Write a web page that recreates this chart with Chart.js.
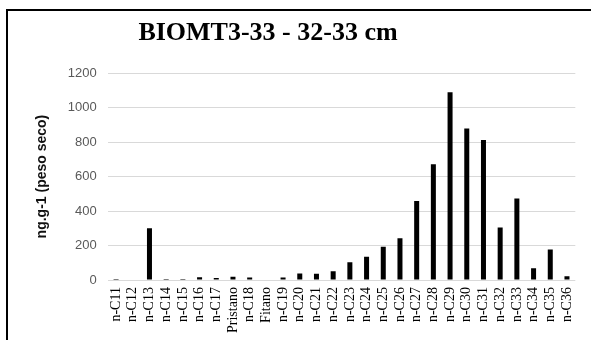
<!DOCTYPE html>
<html>
<head>
<meta charset="utf-8">
<script src="https://cdn.jsdelivr.net/npm/chart.js@4"></script>
<style>
html,body{margin:0;padding:0;background:#fff;overflow:hidden;}
#wrap{position:relative;width:591px;height:340px;}
#frame{position:absolute;left:6px;top:9px;width:700px;height:400px;border:2px solid #000;box-sizing:border-box;pointer-events:none;}
#title{position:absolute;left:0;top:17px;width:536px;text-align:center;font:bold 26px "Liberation Serif","Times New Roman",serif;line-height:30px;color:#000;}
canvas{position:absolute;left:0;top:0;}
</style>
</head>
<body>
<div id="wrap">
  <canvas id="chart" width="591" height="340"></canvas>
  <div id="frame"></div>
  <div id="title">BIOMT3-33 - 32-33 cm</div>
</div>
<script>
/* DATA */
const categories=["n-C11","n-C12","n-C13","n-C14","n-C15","n-C16","n-C17","Pristano","n-C18","Fitano",
  "n-C19","n-C20","n-C21","n-C22","n-C23","n-C24","n-C25","n-C26","n-C27","n-C28",
  "n-C29","n-C30","n-C31","n-C32","n-C33","n-C34","n-C35","n-C36"];

const values=[7,3,300,7,7,17,12,20,15,4,
  15,38,37,52,103,135,193,242,458,671,
  1088,879,812,305,473,68,178,23];

const yTicks=[0,200,400,600,800,1000,1200];
const yTitle="ng.g-1 (peso seco)";

/* CHART */
new Chart(
document.getElementById("chart"),
{
    type:"bar",
    data:{
        labels:categories,
        datasets:[{
            data:values,
            backgroundColor:"#000000",
            barPercentage:0.3,
            categoryPercentage:1
        }]
    },
    options:{
        responsive:false,
        animation:false,
        layout:{padding:{left:30,right:13,top:73,bottom:0}},
        plugins:{legend:{display:false},tooltip:{enabled:false},title:{display:false}},
        scales:{
            x:{
                grid:{display:false,drawTicks:false},
                border:{display:false},
                ticks:{
                    minRotation:90,maxRotation:90,autoSkip:false,padding:7,
                    color:"#000",
                    font:{family:"'Liberation Serif','Times New Roman',serif",size:14}
                }
            },
            y:{
                min:yTicks[0],
                max:yTicks[yTicks.length-1],
                afterBuildTicks:axis=>{axis.ticks=yTicks.map(v=>({value:v}));},
                grid:{color:"#d9d9d9",lineWidth:1,drawTicks:false},
                border:{display:false},
                ticks:{
                    padding:11,color:"#595959",
                    callback:v=>String(v),
                    font:{family:"'Liberation Sans',Arial,sans-serif",size:13}
                },
                title:{
                    display:true,text:yTitle,color:"#111",
                    padding:{top:4,bottom:6},
                    font:{family:"'Liberation Sans',Arial,sans-serif",size:14,weight:"bold"}
                }
            }
        }
    }
});
</script>
</body>
</html>
